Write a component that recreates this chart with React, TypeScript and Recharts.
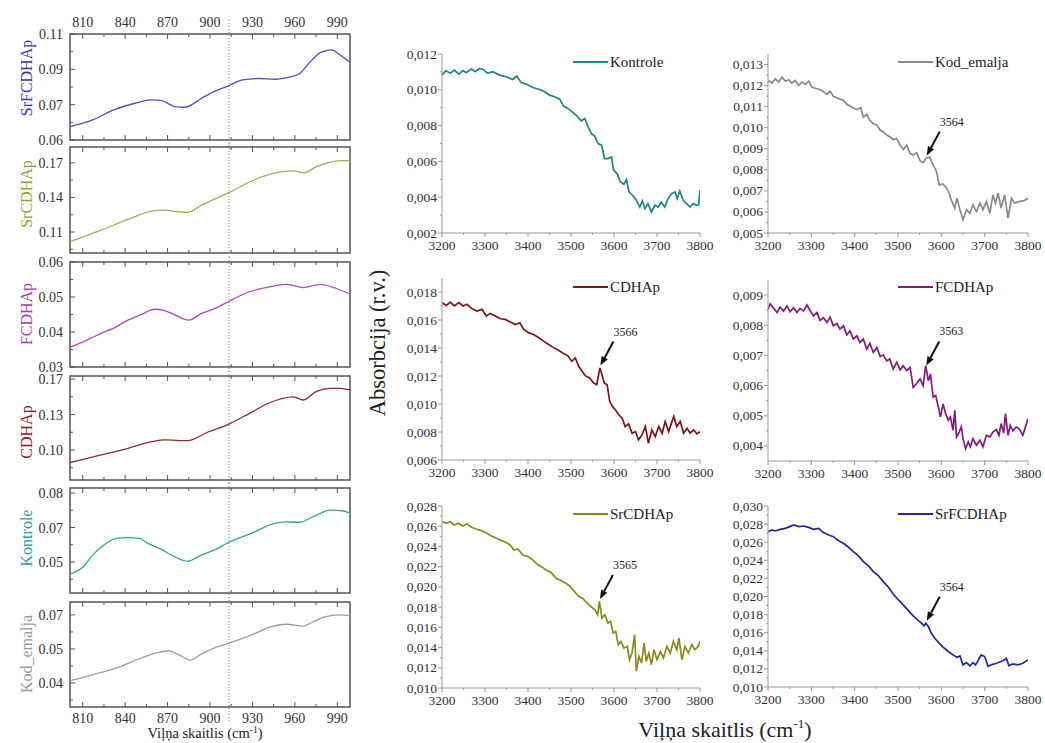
import React from 'react';
import { LineChart, Line, XAxis, YAxis, ReferenceLine, ReferenceDot, ReferenceArea } from 'recharts';

const FONT = '"Liberation Serif", "Times New Roman", Times, serif';

// ================= LEFT PANELS (800–1000 cm-1) =================
const L_X_DOMAIN = [801, 999];
const L_X_MAJOR = [810, 840, 870, 900, 930, 960, 990];
const L_X_MINOR = [825, 855, 885, 915, 945, 975];
const L_MARKER_X = 913.5;

const L_SRFCDHAP = [[801,0.0657],[810,0.0672],[818,0.0688],[832,0.0728],[847,0.0756],[859,0.0770],[866,0.0767],[875,0.0742],[882,0.0739],[894,0.0777],[900,0.0797],[913,0.0830],[923,0.0855],[935,0.0861],[946,0.0858],[956,0.0867],[963,0.0880],[970,0.0926],[978,0.0971],[986,0.0983],[992,0.0961],[999,0.0930]];
const L_SRCDHAP = [[801,0.1016],[823,0.1117],[842,0.1210],[859,0.1281],[868,0.1290],[878,0.1275],[884,0.1270],[894,0.1333],[913,0.1440],[932,0.1556],[946,0.1613],[959,0.1630],[966,0.1613],[975,0.1665],[989,0.1716],[999,0.1722]];
const L_FCDHAP = [[801,0.0356],[813,0.0377],[823,0.0396],[832,0.0411],[842,0.0434],[851,0.0449],[861,0.0465],[868,0.0461],[875,0.0449],[885,0.0434],[894,0.0453],[904,0.0468],[913,0.0487],[928,0.0515],[942,0.0529],[954,0.0536],[966,0.0527],[978,0.0536],[989,0.0525],[999,0.0509]];
const L_CDHAP = [[801,0.0825],[823,0.0901],[842,0.0967],[859,0.1032],[868,0.1049],[884,0.1042],[899,0.1130],[913,0.1203],[928,0.1312],[942,0.1416],[959,0.1475],[966,0.1443],[975,0.1525],[985,0.1558],[992,0.1558],[999,0.1542]];
const L_KONTROLE = [[801,0.0448],[810,0.0477],[817,0.0530],[825,0.0574],[834,0.0603],[842,0.0606],[850,0.0603],[856,0.0581],[865,0.0557],[874,0.0526],[884,0.0503],[894,0.0530],[904,0.0555],[914,0.0588],[923,0.0610],[932,0.0632],[942,0.0661],[954,0.0675],[963,0.0673],[973,0.0697],[985,0.0726],[994,0.0723],[999,0.0712]];
const L_KOD_EMALJA = [[801,0.0410],[818,0.0438],[835,0.0469],[851,0.0509],[863,0.0534],[871,0.0542],[878,0.0524],[886,0.0501],[894,0.0528],[904,0.0557],[913,0.0575],[923,0.0597],[932,0.0619],[942,0.0646],[954,0.0659],[966,0.0651],[973,0.0670],[982,0.0692],[991,0.0700],[999,0.0697]];

const L_NAMES = ['SrFCDHAp', 'SrCDHAp', 'FCDHAp', 'CDHAp', 'Kontrole', 'Kod_emalja'];
const L_SERIES = [L_SRFCDHAP, L_SRCDHAP, L_FCDHAP, L_CDHAP, L_KONTROLE, L_KOD_EMALJA];
const L_Y_DOMAINS = [[0.06, 0.105], [0.0918, 0.1838], [0.03, 0.06], [0.0654, 0.168], [0.0365, 0.0822], [0.0294, 0.0757]];
const L_Y_TICKS = [[0.06, 0.075, 0.09, 0.105], [0.11, 0.14, 0.17], [0.03, 0.04, 0.05, 0.06], [0.095, 0.13, 0.165], [0.05, 0.065, 0.08], [0.04, 0.055, 0.07]];
const L_Y_TICK_LABELS = [['0.06', '0.07', '0.09', '0.11'], ['0.11', '0.14', '0.17'], ['0.03', '0.04', '0.05', '0.06'], ['0.10', '0.13', '0.17'], ['0.05', '0.07', '0.08'], ['0.04', '0.05', '0.07']];
const L_Y_MINOR = [[0.0675, 0.0825, 0.0975], [0.095, 0.125, 0.155], [0.035, 0.045, 0.055], [0.0775, 0.1125, 0.1475], [0.0425, 0.0575, 0.0725], [0.0325, 0.0475, 0.0625]];

// styles / layout for left panels
const L_LINE_COLORS = ['#5252b2', '#a4ac50', '#b24cb2', '#8e2a2a', '#35a0a0', '#9c9c9c'];
const L_LABEL_COLORS = ['#3838a8', '#9c9c3e', '#aa3aaa', '#8b1c1c', '#2a9a9a', '#9a9a9a'];
const L_ROWS = [[34, 140], [147, 253], [262, 367], [376, 480], [488, 593], [602, 707]];
const L_X0 = 70, L_X1 = 350;

// ================= RIGHT PANELS (3200–3800 cm-1) =================
const R_X_DOMAIN = [3200, 3800];
const R_X_MAJOR = [3200, 3300, 3400, 3500, 3600, 3700, 3800];
const R_X_MINOR = [3250, 3350, 3450, 3550, 3650, 3750];

const R_KONTROLE = [[3200,0.01082],[3209,0.01107],[3219,0.01092],[3229,0.0111],[3239,0.01088],[3248,0.01107],[3257,0.01096],[3268,0.01116],[3278,0.01101],[3287,0.0112],[3296,0.01114],[3306,0.01092],[3318,0.01101],[3334,0.01082],[3349,0.01073],[3365,0.01058],[3374,0.01077],[3384,0.0104],[3396,0.01032],[3411,0.01013],[3427,0.01002],[3439,0.00989],[3450,0.0097],[3462,0.00961],[3474,0.00946],[3483,0.00909],[3493,0.00896],[3505,0.00872],[3514,0.00853],[3524,0.00827],[3532,0.0084],[3540,0.00793],[3547,0.00756],[3555,0.00741],[3563,0.007],[3571,0.00691],[3578,0.00616],[3586,0.00616],[3594,0.00625],[3599,0.00551],[3607,0.00532],[3615,0.00485],[3623,0.00472],[3629,0.00498],[3635,0.00429],[3643,0.00411],[3652,0.00383],[3660,0.00345],[3666,0.00379],[3672,0.00336],[3679,0.00364],[3687,0.00318],[3695,0.00355],[3703,0.00345],[3710,0.00373],[3718,0.00345],[3726,0.00392],[3734,0.0042],[3742,0.00429],[3747,0.00392],[3753,0.00435],[3761,0.00383],[3769,0.00364],[3777,0.00345],[3784,0.00364],[3792,0.00355],[3797,0.00358],[3800,0.0044]];
const R_KOD_EMALJA = [[3200,0.01224],[3209,0.01212],[3217,0.01232],[3225,0.01217],[3232,0.0124],[3240,0.01221],[3248,0.01228],[3255,0.01212],[3263,0.01224],[3271,0.01201],[3278,0.01217],[3286,0.01206],[3294,0.01221],[3301,0.01193],[3313,0.01185],[3324,0.01177],[3336,0.01158],[3343,0.01174],[3351,0.01149],[3363,0.01138],[3374,0.0113],[3382,0.01111],[3393,0.01098],[3405,0.01086],[3414,0.01095],[3420,0.01051],[3428,0.01064],[3435,0.01035],[3443,0.0102],[3451,0.01012],[3459,0.00988],[3466,0.0098],[3474,0.00965],[3481,0.00957],[3489,0.00944],[3497,0.00949],[3505,0.00917],[3512,0.00897],[3520,0.00917],[3528,0.00878],[3535,0.0087],[3543,0.00881],[3551,0.00843],[3558,0.00834],[3566,0.00858],[3574,0.00859],[3581,0.00823],[3589,0.00791],[3595,0.00728],[3603,0.00733],[3610,0.0072],[3618,0.00689],[3623,0.00657],[3631,0.00618],[3636,0.00665],[3643,0.0061],[3650,0.00563],[3658,0.0061],[3666,0.00594],[3673,0.00634],[3681,0.00602],[3689,0.00642],[3696,0.0061],[3704,0.0065],[3712,0.00594],[3719,0.00681],[3725,0.00642],[3731,0.00689],[3738,0.00618],[3746,0.00681],[3754,0.00571],[3762,0.00665],[3769,0.00642],[3781,0.0065],[3792,0.00654],[3800,0.00665]];
const R_CDHAP = [[3200,0.01724],[3210,0.01704],[3219,0.01728],[3229,0.017],[3239,0.01724],[3249,0.017],[3258,0.01712],[3270,0.0168],[3281,0.01664],[3293,0.01676],[3303,0.01628],[3312,0.01647],[3324,0.01628],[3336,0.01609],[3347,0.01604],[3359,0.01585],[3370,0.01568],[3381,0.0158],[3390,0.01532],[3402,0.01508],[3413,0.01496],[3425,0.01473],[3436,0.01449],[3448,0.01425],[3460,0.01401],[3471,0.01384],[3483,0.0136],[3492,0.01346],[3502,0.01305],[3510,0.01329],[3518,0.01269],[3526,0.01234],[3533,0.01202],[3543,0.01186],[3553,0.0115],[3560,0.01138],[3567,0.01257],[3572,0.0121],[3577,0.0115],[3584,0.01138],[3590,0.01019],[3596,0.00983],[3603,0.00959],[3611,0.00923],[3619,0.00899],[3626,0.00839],[3634,0.00858],[3642,0.00791],[3650,0.00803],[3657,0.00744],[3665,0.00779],[3673,0.00839],[3680,0.0072],[3688,0.00815],[3696,0.00767],[3704,0.00839],[3712,0.00791],[3719,0.00875],[3727,0.00803],[3739,0.00911],[3746,0.00839],[3754,0.00875],[3762,0.00791],[3770,0.00827],[3777,0.00791],[3785,0.00815],[3793,0.00787],[3800,0.00803]];
const R_FCDHAP = [[3200,0.00853],[3205,0.00871],[3213,0.00856],[3221,0.00842],[3228,0.0086],[3236,0.00847],[3244,0.00864],[3251,0.00845],[3259,0.00858],[3267,0.00842],[3274,0.00856],[3282,0.00847],[3290,0.00867],[3297,0.00849],[3305,0.00831],[3313,0.00842],[3320,0.00816],[3328,0.00825],[3336,0.00809],[3343,0.00827],[3351,0.00798],[3359,0.00806],[3366,0.00787],[3374,0.00798],[3382,0.00768],[3389,0.00781],[3397,0.00754],[3405,0.00765],[3412,0.00743],[3420,0.00754],[3428,0.00721],[3435,0.0074],[3443,0.0071],[3451,0.00726],[3459,0.00696],[3466,0.00702],[3474,0.00682],[3481,0.00688],[3489,0.00655],[3497,0.00677],[3505,0.00652],[3512,0.00666],[3520,0.0065],[3528,0.0066],[3535,0.00594],[3543,0.00607],[3551,0.00622],[3558,0.006],[3564,0.00666],[3570,0.00616],[3575,0.00638],[3581,0.00562],[3587,0.00567],[3593,0.00529],[3598,0.00496],[3604,0.00539],[3610,0.00507],[3616,0.00485],[3621,0.00496],[3627,0.00452],[3631,0.00518],[3635,0.0043],[3641,0.00446],[3646,0.00463],[3650,0.00424],[3656,0.00391],[3662,0.00413],[3667,0.00397],[3673,0.00424],[3681,0.00402],[3689,0.00419],[3696,0.00397],[3704,0.00435],[3712,0.0043],[3719,0.00446],[3727,0.00454],[3733,0.00435],[3738,0.00474],[3744,0.00443],[3748,0.00507],[3754,0.00435],[3759,0.00468],[3765,0.0045],[3773,0.00463],[3781,0.00454],[3788,0.00435],[3794,0.00463],[3800,0.0049]];
const R_SRCDHAP = [[3200,0.02645],[3210,0.02629],[3219,0.02645],[3228,0.02612],[3238,0.02629],[3248,0.02603],[3258,0.02622],[3269,0.0259],[3281,0.0257],[3292,0.02557],[3304,0.0253],[3315,0.02504],[3327,0.02481],[3338,0.02458],[3350,0.02438],[3358,0.02415],[3367,0.02366],[3377,0.02372],[3388,0.02316],[3400,0.023],[3411,0.02267],[3423,0.02218],[3433,0.02195],[3442,0.02168],[3454,0.02142],[3465,0.02086],[3477,0.02063],[3488,0.02037],[3498,0.02004],[3508,0.01954],[3518,0.01905],[3527,0.01888],[3536,0.01846],[3546,0.01806],[3556,0.01774],[3562,0.01724],[3566,0.01856],[3572,0.01691],[3579,0.01724],[3586,0.01642],[3592,0.01658],[3598,0.01543],[3604,0.0156],[3610,0.01428],[3616,0.01461],[3623,0.01395],[3631,0.01412],[3636,0.0128],[3642,0.01346],[3648,0.01527],[3652,0.01165],[3658,0.01313],[3664,0.01247],[3670,0.01445],[3675,0.01264],[3681,0.01346],[3687,0.01231],[3693,0.01379],[3700,0.0128],[3708,0.01362],[3715,0.01297],[3723,0.01412],[3731,0.01346],[3738,0.01461],[3746,0.01379],[3751,0.01494],[3758,0.0128],[3765,0.01412],[3773,0.01346],[3781,0.01428],[3788,0.01379],[3796,0.01412],[3800,0.01461]];
const R_SRFCDHAP = [[3200,0.02717],[3209,0.02735],[3217,0.02724],[3228,0.02742],[3240,0.02753],[3250,0.02772],[3259,0.0279],[3271,0.02772],[3282,0.02779],[3294,0.02764],[3305,0.02742],[3317,0.02753],[3328,0.02706],[3340,0.0268],[3351,0.02661],[3363,0.02617],[3374,0.02588],[3386,0.02544],[3397,0.02496],[3409,0.02448],[3420,0.02386],[3432,0.02338],[3443,0.02275],[3455,0.02227],[3466,0.02165],[3478,0.02102],[3489,0.02028],[3501,0.01962],[3512,0.01907],[3524,0.01844],[3535,0.01786],[3547,0.01734],[3554,0.01705],[3560,0.01675],[3564,0.01705],[3570,0.01668],[3577,0.01594],[3585,0.01539],[3595,0.01484],[3604,0.0144],[3616,0.01392],[3627,0.01355],[3636,0.01329],[3643,0.01344],[3650,0.01245],[3658,0.0127],[3666,0.01234],[3673,0.0127],[3679,0.01245],[3685,0.01293],[3692,0.01355],[3700,0.01337],[3708,0.01226],[3715,0.01245],[3727,0.01263],[3738,0.01282],[3746,0.013],[3750,0.01318],[3756,0.01234],[3765,0.01256],[3777,0.01245],[3788,0.01263],[3800,0.013]];

const R_NAMES = ['Kontrole', 'Kod_emalja', 'CDHAp', 'FCDHAp', 'SrCDHAp', 'SrFCDHAp'];
const R_SERIES = [R_KONTROLE, R_KOD_EMALJA, R_CDHAP, R_FCDHAP, R_SRCDHAP, R_SRFCDHAP];
const R_Y_DOMAINS = [[0.002, 0.012], [0.005, 0.0135], [0.006, 0.019], [0.0035, 0.0095], [0.010, 0.028], [0.010, 0.030]];
const R_Y_TICKS = [
  [0.002, 0.004, 0.006, 0.008, 0.010, 0.012],
  [0.005, 0.006, 0.007, 0.008, 0.009, 0.010, 0.011, 0.012, 0.013],
  [0.006, 0.008, 0.010, 0.012, 0.014, 0.016, 0.018],
  [0.004, 0.005, 0.006, 0.007, 0.008, 0.009],
  [0.010, 0.012, 0.014, 0.016, 0.018, 0.020, 0.022, 0.024, 0.026, 0.028],
  [0.010, 0.012, 0.014, 0.016, 0.018, 0.020, 0.022, 0.024, 0.026, 0.028, 0.030],
];
const R_Y_MINOR = [
  [0.003, 0.005, 0.007, 0.009, 0.011],
  [0.0055, 0.0065, 0.0075, 0.0085, 0.0095, 0.0105, 0.0115, 0.0125],
  [0.007, 0.009, 0.011, 0.013, 0.015, 0.017],
  [0.0045, 0.0055, 0.0065, 0.0075, 0.0085],
  [0.011, 0.013, 0.015, 0.017, 0.019, 0.021, 0.023, 0.025, 0.027],
  [0.011, 0.013, 0.015, 0.017, 0.019, 0.021, 0.023, 0.025, 0.027, 0.029],
];
// peak annotations: [panel index, wavenumber, absorbance, label]
const R_PEAKS = [[1, 3564, 0.00858, '3564'], [2, 3566, 0.0126, '3566'], [3, 3563, 0.0066, '3563'], [4, 3565, 0.0186, '3565'], [5, 3564, 0.0171, '3564']];

// styles / layout for right panels
const R_COLORS = ['#1b8686', '#8a8a8a', '#7c1515', '#821c7e', '#8a8a1c', '#22289a'];
const R_BOXES = [
  [442, 700, 54, 233], [768, 1028, 54, 233],
  [442, 700, 278, 460], [768, 1028, 280, 461],
  [442, 700, 506, 688], [768, 1028, 506, 687],
];

const near = (arr: number[], v: number) => arr.findIndex((m) => Math.abs(m - v) < 1e-7);
const toRows = (pairs: number[][]) => pairs.map(([x, y]) => ({ x, y }));

// ---------- LEFT PANEL ----------
function LeftPanel({ i }: { i: number }) {
  const [top, bottom] = L_ROWS[i];
  const plotH = bottom - top;
  const W = 70, MT = 22, H = 25, MR = 6;
  const data = toRows(L_SERIES[i]);
  const yMajors = L_Y_TICKS[i];
  const yLabels = L_Y_TICK_LABELS[i];
  const showTop = i === 0;
  const showBottom = i === L_ROWS.length - 1;
  const extTop = showTop ? 14 : 5;
  const extBottom = showBottom ? 15 : 5;

  const xTick = (p: any) => {
    const { x, y, payload } = p;
    const mi = near(L_X_MAJOR, payload.value);
    const len = mi >= 0 ? 5 : 3;
    return (
      <g>
        <line x1={x} x2={x} y1={y} y2={y - len} stroke="#555" strokeWidth={1} />
        <line x1={x} x2={x} y1={y - plotH} y2={y - plotH + len} stroke="#555" strokeWidth={1} />
        {mi >= 0 && showBottom && (
          <text x={x} y={y + 16} textAnchor="middle" fontSize={14} fill="#333" fontFamily={FONT}>{L_X_MAJOR[mi]}</text>
        )}
        {mi >= 0 && showTop && (
          <text x={x} y={y - plotH - 7} textAnchor="middle" fontSize={14} fill="#333" fontFamily={FONT}>{L_X_MAJOR[mi]}</text>
        )}
      </g>
    );
  };
  const yTick = (p: any) => {
    const { x, y, payload } = p;
    const mi = near(yMajors, payload.value);
    const len = mi >= 0 ? 5 : 3;
    return (
      <g>
        <line x1={x} x2={x + len} y1={y} y2={y} stroke="#555" strokeWidth={1} />
        {mi >= 0 && (
          <text x={x - 7} y={y + 5} textAnchor="end" fontSize={14} fill="#333" fontFamily={FONT}>{yLabels[mi]}</text>
        )}
      </g>
    );
  };
  const markerShape = (sp: any) => {
    const yTop = Math.min(sp.y1, sp.y2) - extTop;
    const yBot = Math.max(sp.y1, sp.y2) + extBottom;
    return <line x1={sp.x1} x2={sp.x2} y1={yTop} y2={yBot} stroke="#6f80c4" strokeWidth={1} strokeDasharray="1 2" />;
  };

  return (
    <div style={{ position: 'absolute', left: L_X0 - W, top: top - MT }}>
      <LineChart width={L_X1 - L_X0 + W + MR} height={plotH + MT + H} data={data} margin={{ top: MT, right: MR, bottom: 0, left: 0 }}>
        <XAxis dataKey="x" type="number" domain={L_X_DOMAIN} allowDataOverflow ticks={[...L_X_MAJOR, ...L_X_MINOR].sort((a, b) => a - b)}
          interval={0} tickSize={0} tickMargin={0} axisLine={false} tickLine={false} height={H} tick={xTick} />
        <YAxis type="number" domain={L_Y_DOMAINS[i]} allowDataOverflow ticks={[...yMajors, ...L_Y_MINOR[i]].sort((a, b) => a - b)}
          interval={0} tickSize={0} tickMargin={0} axisLine={false} tickLine={false} width={W} tick={yTick} />
        <ReferenceLine x={L_MARKER_X} stroke="#6f80c4" shape={markerShape} />
        <Line dataKey="y" type="monotone" stroke={L_LINE_COLORS[i]} strokeWidth={1.3} dot={false} activeDot={false} isAnimationActive={false} />
        <ReferenceArea x1={L_X_DOMAIN[0]} x2={L_X_DOMAIN[1]} y1={L_Y_DOMAINS[i][0]} y2={L_Y_DOMAINS[i][1]} fill="none" fillOpacity={0} stroke="#555" strokeWidth={1.5} ifOverflow="visible" />
      </LineChart>
    </div>
  );
}

// ---------- RIGHT PANEL ----------
const PeakArrow = (props: any) => {
  const { cx, cy, label } = props;
  if (cx == null || cy == null) return null;
  const tipX = cx + 1, tipY = cy - 2;
  const tailX = cx + 14, tailY = cy - 26;
  const dx = tipX - tailX, dy = tipY - tailY;
  const len = Math.hypot(dx, dy);
  const ux = dx / len, uy = dy / len;
  const hl = 9, hw = 3.5;
  const bx = tipX - ux * hl, by = tipY - uy * hl;
  const px = -uy, py = ux;
  return (
    <g>
      <line x1={tailX} y1={tailY} x2={bx} y2={by} stroke="#111" strokeWidth={2} />
      <polygon points={`${tipX},${tipY} ${bx + px * hw},${by + py * hw} ${bx - px * hw},${by - py * hw}`} fill="#111" />
      <text x={cx + 26} y={cy - 32} textAnchor="middle" fontSize={12} fill="#222" fontFamily={FONT}>{label}</text>
    </g>
  );
};

function RightPanel({ i }: { i: number }) {
  const [x0, x1, y0, y1] = R_BOXES[i];
  const W = 52, MT = 6, H = 26, MR = 24;
  const data = toRows(R_SERIES[i]);
  const yMajors = R_Y_TICKS[i];
  const fmt = (v: number) => v.toFixed(3).replace('.', ',');
  const peaks = R_PEAKS.filter((p) => p[0] === i);

  const xTick = (p: any) => {
    const { x, y, payload } = p;
    const mi = near(R_X_MAJOR, payload.value);
    return (
      <g>
        <line x1={x} x2={x} y1={y} y2={y + (mi >= 0 ? 4 : 2)} stroke="#999" strokeWidth={1} />
        {mi >= 0 && (
          <text x={x} y={y + 17} textAnchor="middle" fontSize={13.5} fill="#333" fontFamily={FONT}>{R_X_MAJOR[mi]}</text>
        )}
      </g>
    );
  };
  const yTick = (p: any) => {
    const { x, y, payload } = p;
    const mi = near(yMajors, payload.value);
    return (
      <g>
        <line x1={x - (mi >= 0 ? 4 : 2)} x2={x} y1={y} y2={y} stroke="#999" strokeWidth={1} />
        {mi >= 0 && (
          <text x={x - 5} y={y + 4.5} textAnchor="end" fontSize={13.5} fill="#333" fontFamily={FONT}>{fmt(yMajors[mi])}</text>
        )}
      </g>
    );
  };

  return (
    <div style={{ position: 'absolute', left: x0 - W, top: y0 - MT }}>
      <LineChart width={x1 - x0 + W + MR} height={y1 - y0 + MT + H} data={data} margin={{ top: MT, right: MR, bottom: 0, left: 0 }}>
        <XAxis dataKey="x" type="number" domain={R_X_DOMAIN} allowDataOverflow ticks={[...R_X_MAJOR, ...R_X_MINOR].sort((a, b) => a - b)}
          interval={0} tickSize={0} tickMargin={0} axisLine={{ stroke: '#999', strokeWidth: 1 }} tickLine={false} height={H} tick={xTick} />
        <YAxis type="number" domain={R_Y_DOMAINS[i]} allowDataOverflow ticks={[...yMajors, ...R_Y_MINOR[i]].sort((a, b) => a - b)}
          interval={0} tickSize={0} tickMargin={0} axisLine={{ stroke: '#999', strokeWidth: 1 }} tickLine={false} width={W} tick={yTick} />
        <Line dataKey="y" type="linear" stroke={R_COLORS[i]} strokeWidth={1.7} dot={false} activeDot={false} isAnimationActive={false} />
        {peaks.map((pk, k) => (
          <ReferenceDot key={k} x={pk[1] as number} y={pk[2] as number} r={0}
            shape={(sp: any) => <PeakArrow cx={sp.cx} cy={sp.cy} label={pk[3]} />} />
        ))}
      </LineChart>
    </div>
  );
}

// ---------- OVERLAY TEXT ----------
const L_NAME_Y = [78, 194, 314, 432, 538, 654];
const R_LEGEND_POS = [[573, 62], [898, 62], [573, 287], [898, 287], [573, 514], [898, 514]];

function Overlay() {
  return (
    <svg width={1045} height={743} style={{ position: 'absolute', left: 0, top: 0, pointerEvents: 'none' }}>
      {L_NAMES.map((n, i) => (
        <text key={n} x={26} y={L_NAME_Y[i]} transform={`rotate(-90 26 ${L_NAME_Y[i]})`} textAnchor="middle" dominantBaseline="central"
          fontSize={16} fill={L_LABEL_COLORS[i]} fontFamily={FONT}>{n}</text>
      ))}
      {R_NAMES.map((n, i) => {
        const [lx, ly] = R_LEGEND_POS[i];
        return (
          <g key={n}>
            <line x1={lx} x2={lx + 35} y1={ly} y2={ly} stroke={R_COLORS[i]} strokeWidth={2} />
            <text x={lx + 37} y={ly + 5} fontSize={15} fill="#222" fontFamily={FONT}>{n}</text>
          </g>
        );
      })}
      <text x={377} y={343} transform="rotate(-90 377 343)" textAnchor="middle" dominantBaseline="central" fontSize={22.5} fill="#222" fontFamily={FONT}>
        Absorbcija (r.v.)
      </text>
      <text x={725} y={737} textAnchor="middle" fontSize={22} fill="#222" fontFamily={FONT}>
        Viļņa skaitlis (cm<tspan dy={-9} fontSize={13}>-1</tspan><tspan dy={9}>)</tspan>
      </text>
      <text x={205} y={738} textAnchor="middle" fontSize={14.5} fill="#222" fontFamily={FONT}>
        Viļņa skaitlis (cm<tspan dy={-5} fontSize={9.5}>-1</tspan><tspan dy={5}>)</tspan>
      </text>
    </svg>
  );
}

export default function App() {
  return (
    <div style={{ position: 'absolute', left: 0, top: 0, width: 1045, height: 743, background: '#fff', fontFamily: FONT }}>
      {L_ROWS.map((_, i) => <LeftPanel key={`l${i}`} i={i} />)}
      {R_BOXES.map((_, i) => <RightPanel key={`r${i}`} i={i} />)}
      <Overlay />
    </div>
  );
}
